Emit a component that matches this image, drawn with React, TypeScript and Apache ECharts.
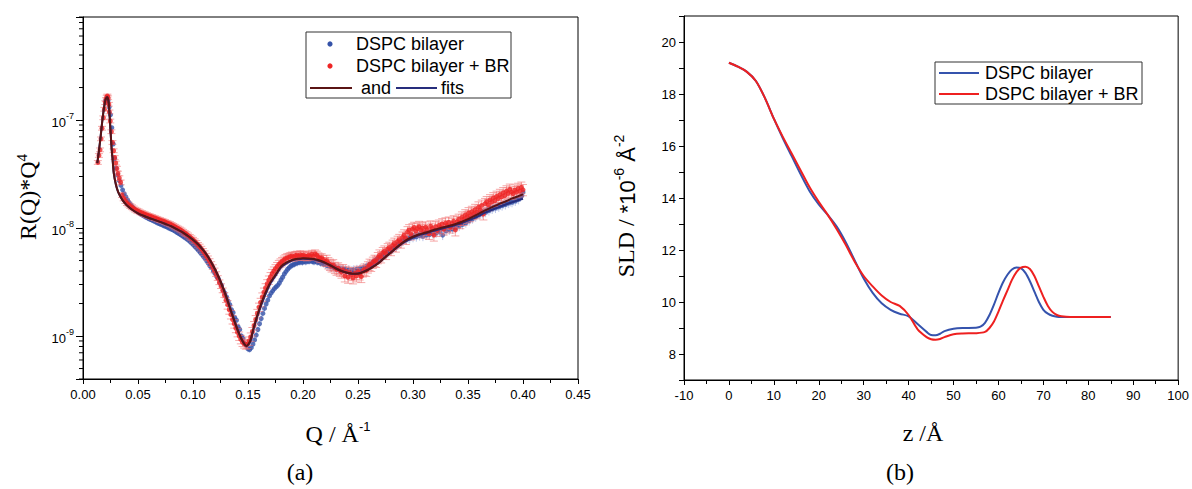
import React, { useEffect, useRef } from "react";
import * as echarts from "echarts";

const SANS = '"Liberation Sans", Arial, sans-serif';
const SERIF = '"Liberation Serif", "Times New Roman", serif';

// ---------- Panel (a): R(Q)*Q^4, values in units of 1e-9 ----------
const R_UNIT = 1e-9;

const BLUE_POINTS: [number, number][] = [
  [0.0205, 150], [0.0218, 160], [0.0228, 152], [0.0238, 132], [0.025, 112], [0.0262, 85], [0.0275, 60], [0.0288, 44],
  [0.03, 36], [0.0315, 31], [0.033, 27.5], [0.0345, 24.8], [0.036, 22.6], [0.0375, 20.8], [0.039, 19.4], [0.0405, 18.2],
  [0.042, 17.2], [0.0435, 16.4], [0.045, 15.7], [0.0465, 15.1], [0.048, 14.6], [0.0495, 14.2], [0.051, 13.8], [0.0525, 13.5],
  [0.054, 13.2], [0.0555, 12.9], [0.057, 12.65], [0.0585, 12.4], [0.06, 12.2], [0.0615, 12.0], [0.063, 11.8], [0.0645, 11.6],
  [0.066, 11.4], [0.0675, 11.2], [0.069, 11.0], [0.0705, 10.85], [0.072, 10.7], [0.0735, 10.5], [0.075, 10.35], [0.0765, 10.2],
  [0.078, 10.0], [0.0795, 9.85], [0.081, 9.7], [0.0825, 9.5], [0.084, 9.3], [0.0855, 9.1], [0.087, 8.9], [0.0885, 8.7],
  [0.09, 8.5], [0.0915, 8.3], [0.093, 8.1], [0.0945, 7.9], [0.096, 7.7], [0.0975, 7.45], [0.099, 7.2], [0.1005, 6.95],
  [0.102, 6.7], [0.1035, 6.45], [0.105, 6.2], [0.1065, 5.95], [0.108, 5.7], [0.1095, 5.45], [0.111, 5.2], [0.1125, 4.95],
  [0.114, 4.7], [0.1155, 4.45], [0.117, 4.3], [0.1185, 4.0], [0.12, 3.8], [0.1215, 3.55], [0.123, 3.4], [0.1245, 3.1],
  [0.126, 2.95], [0.1275, 2.65], [0.129, 2.5], [0.1305, 2.3], [0.132, 2.1], [0.1335, 1.95], [0.135, 1.75], [0.1365, 1.65],
  [0.138, 1.48], [0.1395, 1.4], [0.141, 1.22], [0.1425, 1.15], [0.144, 1.0], [0.1455, 0.95], [0.147, 0.85], [0.1485, 0.82],
  [0.15, 0.76], [0.1515, 0.75], [0.153, 0.78], [0.1545, 0.84], [0.156, 0.92], [0.1575, 1.02], [0.159, 1.15], [0.1605, 1.3],
  [0.162, 1.45], [0.1635, 1.62], [0.165, 1.8], [0.1665, 1.98], [0.168, 2.15], [0.1695, 2.35], [0.171, 2.5], [0.1725, 2.62],
  [0.174, 2.75], [0.1755, 2.85], [0.177, 2.95], [0.1785, 3.1], [0.18, 3.3], [0.1815, 3.5], [0.183, 3.75], [0.1845, 3.95],
  [0.186, 4.15], [0.1875, 4.3], [0.189, 4.45], [0.1905, 4.55], [0.192, 4.6], [0.1935, 4.7], [0.195, 4.75], [0.1965, 4.8],
  [0.198, 4.85], [0.1995, 4.8], [0.201, 4.9], [0.2025, 4.85], [0.204, 4.95], [0.2055, 4.9], [0.207, 5.0], [0.2085, 4.9],
  [0.21, 4.85], [0.2115, 4.95], [0.213, 4.8], [0.2145, 4.85], [0.216, 4.7], [0.2175, 4.75], [0.219, 4.6], [0.2205, 4.65],
  [0.222, 4.5], [0.2235, 4.55], [0.225, 4.4], [0.2265, 4.45], [0.228, 4.3], [0.2295, 4.35], [0.231, 4.2], [0.2325, 4.25],
  [0.234, 4.1], [0.2355, 4.2], [0.237, 4.05], [0.2385, 4.15], [0.24, 4.0], [0.2415, 4.1], [0.243, 3.95], [0.2445, 4.05],
  [0.246, 4.1], [0.2475, 3.95], [0.249, 4.15], [0.2505, 4.05], [0.252, 4.2], [0.2535, 4.1], [0.255, 4.3], [0.2565, 4.25],
  [0.258, 4.45], [0.2595, 4.4], [0.261, 4.65], [0.2625, 4.6], [0.264, 4.9], [0.2655, 4.85], [0.267, 5.15], [0.2685, 5.1],
  [0.27, 5.4], [0.2715, 5.35], [0.273, 5.7], [0.2745, 5.65], [0.276, 5.95], [0.2775, 6.0], [0.279, 6.2], [0.2805, 6.35],
  [0.282, 6.5], [0.2835, 6.7], [0.285, 6.8], [0.2865, 7.1], [0.288, 7.2], [0.2895, 7.5], [0.291, 7.6], [0.2925, 7.9],
  [0.294, 7.8], [0.2955, 8.1], [0.297, 8.0], [0.2985, 8.4], [0.3, 8.2], [0.3015, 8.6], [0.303, 8.3], [0.3045, 8.7],
  [0.306, 8.5], [0.3075, 8.8], [0.309, 8.4], [0.3105, 8.9], [0.312, 8.6], [0.3135, 9.1], [0.315, 8.7], [0.3165, 9.3],
  [0.318, 8.9], [0.3195, 9.5], [0.321, 9.0], [0.3225, 9.6], [0.324, 9.2], [0.3255, 9.8], [0.327, 8.6], [0.3285, 9.9],
  [0.33, 9.4], [0.3315, 10.1], [0.333, 9.6], [0.3345, 10.3], [0.336, 9.8], [0.3375, 10.5], [0.339, 10.1], [0.3405, 10.7],
  [0.342, 10.4], [0.3435, 11.0], [0.345, 10.8], [0.3465, 11.4], [0.348, 11.2], [0.3495, 11.9], [0.351, 11.7], [0.3525, 12.4],
  [0.354, 12.2], [0.3555, 12.9], [0.357, 12.7], [0.3585, 13.4], [0.36, 13.2], [0.3615, 13.9], [0.363, 13.6], [0.3645, 14.4],
  [0.366, 14.0], [0.3675, 14.8], [0.369, 14.5], [0.3705, 15.2], [0.372, 15.0], [0.3735, 15.6], [0.375, 15.3], [0.3765, 16.0],
  [0.378, 15.7], [0.3795, 16.4], [0.381, 16.1], [0.3825, 16.8], [0.384, 16.5], [0.3855, 17.2], [0.387, 17.0], [0.3885, 17.6],
  [0.39, 17.3], [0.3915, 18.0], [0.393, 17.8], [0.3945, 18.6], [0.396, 18.4], [0.3975, 19.4], [0.399, 20.0], [0.4, 21.5],
];

const RED_POINTS: [number, number][] = [
  [0.0135, 40.5], [0.0145, 47], [0.0155, 53], [0.0164, 67], [0.0173, 84], [0.0185, 105], [0.0194, 126], [0.0203, 145],
  [0.021, 155], [0.0216, 163], [0.0222, 167], [0.0228, 161], [0.0235, 140], [0.024, 119], [0.0248, 98], [0.0258, 78],
  [0.0268, 62], [0.0278, 52], [0.0288, 45], [0.0298, 40], [0.0308, 35.5], [0.0318, 32], [0.033, 29], [0.0342, 26.5],
  [0.0355, 20.2], [0.037, 18.8], [0.0385, 17.8], [0.04, 17.0], [0.0415, 16.5], [0.043, 16.0], [0.0445, 15.6], [0.046, 15.2],
  [0.0475, 14.8], [0.049, 14.5], [0.0505, 14.3], [0.052, 14.0], [0.0535, 13.8], [0.055, 13.6], [0.0565, 13.4], [0.058, 13.2],
  [0.0595, 13.0], [0.061, 12.85], [0.0625, 12.7], [0.064, 12.5], [0.0655, 12.35], [0.067, 12.2], [0.0685, 12.0], [0.07, 11.85],
  [0.0715, 11.7], [0.073, 11.55], [0.0745, 11.4], [0.076, 11.2], [0.0775, 11.05], [0.079, 10.9], [0.0805, 10.7], [0.082, 10.5],
  [0.0835, 10.3], [0.085, 10.1], [0.0865, 9.9], [0.088, 9.7], [0.0895, 9.5], [0.091, 9.25], [0.0925, 9.0], [0.094, 8.8],
  [0.0955, 8.55], [0.097, 8.3], [0.0985, 8.05], [0.1, 7.8], [0.1015, 7.55], [0.103, 7.3], [0.1045, 7.0], [0.106, 6.75],
  [0.1075, 6.45], [0.109, 6.15], [0.1105, 5.85], [0.112, 5.55], [0.1135, 5.25], [0.115, 4.95], [0.1165, 4.65], [0.118, 4.35],
  [0.1195, 4.05], [0.121, 3.75], [0.1225, 3.45], [0.124, 3.15], [0.1255, 2.9], [0.127, 2.65], [0.1285, 2.4], [0.13, 2.15],
  [0.1315, 1.95], [0.133, 1.75], [0.1345, 1.58], [0.136, 1.42], [0.1375, 1.3], [0.139, 1.18], [0.1405, 1.08], [0.142, 1.0],
  [0.1435, 0.93], [0.145, 0.88], [0.1465, 0.85], [0.148, 0.83], [0.1495, 0.84], [0.151, 0.9], [0.1525, 0.98], [0.154, 1.1],
  [0.1555, 1.25], [0.157, 1.42], [0.1585, 1.62], [0.16, 1.85], [0.1615, 2.05], [0.163, 2.3], [0.1645, 2.55], [0.166, 2.8],
  [0.1675, 3.05], [0.169, 3.3], [0.1705, 3.55], [0.172, 3.8], [0.1735, 4.0], [0.175, 4.2], [0.1765, 4.4], [0.178, 4.6],
  [0.1795, 4.75], [0.181, 4.9], [0.1825, 5.05], [0.184, 5.2], [0.1855, 5.3], [0.187, 5.35], [0.1885, 5.45], [0.19, 5.5],
  [0.1915, 5.4], [0.193, 5.55], [0.1945, 5.6], [0.196, 5.5], [0.1975, 5.65], [0.199, 5.55], [0.2005, 5.6], [0.202, 5.5],
  [0.2035, 5.45], [0.205, 5.6], [0.2065, 5.5], [0.208, 5.7], [0.2095, 5.5], [0.211, 5.75], [0.2125, 5.6], [0.214, 5.4],
  [0.2155, 5.25], [0.217, 5.3], [0.2185, 5.1], [0.22, 4.9], [0.2215, 5.0], [0.223, 4.75], [0.2245, 4.6], [0.226, 4.45],
  [0.2275, 4.55], [0.229, 4.3], [0.2305, 4.15], [0.232, 4.25], [0.2335, 4.05], [0.235, 3.9], [0.2365, 4.1], [0.238, 3.6],
  [0.2395, 3.95], [0.241, 3.5], [0.2425, 3.85], [0.244, 3.7], [0.2455, 3.45], [0.247, 3.8], [0.2485, 3.6], [0.25, 3.95],
  [0.2515, 3.75], [0.253, 3.55], [0.2545, 4.0], [0.256, 4.15], [0.2575, 4.05], [0.259, 4.35], [0.2605, 4.6], [0.262, 4.5],
  [0.2635, 4.8], [0.265, 5.0], [0.2665, 4.9], [0.268, 5.3], [0.2695, 5.6], [0.271, 5.4], [0.2725, 5.9], [0.274, 6.1],
  [0.2755, 5.8], [0.277, 6.4], [0.2785, 6.6], [0.28, 6.3], [0.2815, 6.9], [0.283, 7.2], [0.2845, 6.8], [0.286, 7.5],
  [0.2875, 7.8], [0.289, 7.4], [0.2905, 8.2], [0.292, 8.6], [0.2935, 8.0], [0.295, 9.2], [0.2965, 9.6], [0.298, 8.8],
  [0.2995, 9.8], [0.301, 10.1], [0.3025, 9.4], [0.304, 9.9], [0.3055, 10.3], [0.307, 9.6], [0.3085, 10.0], [0.31, 9.2],
  [0.3115, 10.2], [0.313, 9.7], [0.3145, 8.9], [0.316, 10.4], [0.3175, 9.9], [0.319, 8.6], [0.3205, 10.3], [0.322, 9.5],
  [0.3235, 10.6], [0.325, 10.1], [0.3265, 10.9], [0.328, 9.8], [0.3295, 11.1], [0.331, 10.5], [0.3325, 11.3], [0.334, 10.2],
  [0.3355, 11.0], [0.337, 11.6], [0.3385, 9.6], [0.34, 11.4], [0.3415, 12.0], [0.343, 11.2], [0.3445, 12.6], [0.346, 12.0],
  [0.3475, 13.2], [0.349, 12.6], [0.3505, 13.8], [0.352, 13.0], [0.3535, 14.2], [0.355, 13.6], [0.3565, 14.8], [0.358, 14.0],
  [0.3595, 15.6], [0.361, 14.7], [0.3625, 16.2], [0.364, 13.5], [0.3655, 16.8], [0.367, 17.5], [0.3685, 16.4], [0.37, 18.2],
  [0.3715, 17.4], [0.373, 19.0], [0.3745, 18.0], [0.376, 19.6], [0.3775, 18.8], [0.379, 20.4], [0.3805, 19.4], [0.382, 21.2],
  [0.3835, 20.0], [0.385, 22.0], [0.3865, 21.0], [0.388, 22.8], [0.3895, 21.5], [0.391, 20.8], [0.3925, 22.4], [0.394, 21.6],
  [0.3955, 23.2], [0.397, 22.0], [0.3985, 23.8], [0.4, 22.6],
];

// fits (units of 1e-9)
const RED_FIT: [number, number][] = [
  [0.013, 40], [0.0145, 52], [0.016, 70], [0.0175, 97], [0.019, 128], [0.0205, 155], [0.022, 163], [0.0232, 150],
  [0.024, 118], [0.025, 80], [0.026, 55], [0.027, 42], [0.028, 32], [0.03, 25], [0.032, 21.5], [0.035, 18.8],
  [0.038, 17], [0.041, 15.8], [0.045, 14.7], [0.05, 13.7], [0.055, 13.0], [0.06, 12.4], [0.065, 11.9], [0.07, 11.4],
  [0.075, 10.9], [0.08, 10.4], [0.085, 9.8], [0.09, 9.2], [0.095, 8.5], [0.1, 7.8], [0.105, 7.0], [0.11, 6.1],
  [0.115, 5.15], [0.12, 4.15], [0.125, 3.2], [0.13, 2.35], [0.135, 1.65], [0.14, 1.18], [0.145, 0.9], [0.1487, 0.81],
  [0.152, 0.9], [0.155, 1.18], [0.16, 1.74], [0.165, 2.4], [0.17, 3.1], [0.175, 3.7], [0.18, 4.4], [0.185, 4.8],
  [0.19, 5.06], [0.195, 5.2], [0.2, 5.25], [0.205, 5.23], [0.21, 5.17], [0.215, 5.0], [0.22, 4.78], [0.225, 4.5],
  [0.23, 4.22], [0.235, 4.0], [0.24, 3.85], [0.245, 3.78], [0.25, 3.78], [0.255, 3.92], [0.26, 4.14], [0.265, 4.45],
  [0.27, 4.85], [0.275, 5.4], [0.28, 5.95], [0.285, 6.6], [0.29, 7.25], [0.295, 7.85], [0.3, 8.3], [0.305, 8.7],
  [0.31, 9.0], [0.315, 9.3], [0.32, 9.7], [0.325, 10.0], [0.33, 10.3], [0.335, 10.6], [0.34, 11.0], [0.345, 11.5],
  [0.35, 12.1], [0.355, 12.8], [0.36, 13.6], [0.365, 14.5], [0.37, 15.3], [0.375, 16.1], [0.38, 17.0], [0.385, 17.8],
  [0.39, 18.8], [0.395, 19.6], [0.4, 20.5],
];

const BLUE_FIT: [number, number][] = [
  [0.013, 40], [0.0145, 52], [0.016, 70], [0.0175, 97], [0.019, 128], [0.0205, 155], [0.022, 163], [0.0232, 150],
  [0.024, 118], [0.025, 80], [0.026, 55], [0.027, 42], [0.028, 32], [0.03, 25], [0.032, 21.5], [0.035, 18.8],
  [0.038, 17], [0.041, 15.8], [0.045, 14.7], [0.05, 13.7], [0.055, 13.0], [0.06, 12.4], [0.065, 11.9], [0.07, 11.4],
  [0.075, 10.9], [0.08, 10.4], [0.085, 9.8], [0.09, 9.2], [0.095, 8.5], [0.1, 7.8], [0.105, 7.0], [0.11, 6.1],
  [0.115, 5.15], [0.12, 4.15], [0.125, 3.2], [0.13, 2.35], [0.135, 1.65], [0.14, 1.18], [0.145, 0.9], [0.1487, 0.81],
  [0.152, 0.88], [0.155, 1.15], [0.16, 1.68], [0.165, 2.3], [0.17, 3.0], [0.175, 3.6], [0.18, 4.3], [0.185, 4.7],
  [0.19, 5.0], [0.195, 5.15], [0.2, 5.2], [0.205, 5.18], [0.21, 5.1], [0.215, 4.95], [0.22, 4.75], [0.225, 4.5],
  [0.23, 4.22], [0.235, 4.0], [0.24, 3.85], [0.245, 3.78], [0.25, 3.8], [0.255, 3.95], [0.26, 4.17], [0.265, 4.48],
  [0.27, 4.88], [0.275, 5.4], [0.28, 5.95], [0.285, 6.55], [0.29, 7.15], [0.295, 7.7], [0.3, 8.15], [0.305, 8.55],
  [0.31, 8.85], [0.315, 9.15], [0.32, 9.5], [0.325, 9.8], [0.33, 10.1], [0.335, 10.4], [0.34, 10.75], [0.345, 11.2],
  [0.35, 11.7], [0.355, 12.3], [0.36, 13.0], [0.365, 13.8], [0.37, 14.5], [0.375, 15.2], [0.38, 15.9], [0.385, 16.6],
  [0.39, 17.3], [0.395, 18.0], [0.4, 18.7],
];

// relative error bands: [upper Q bound, relative error]
const RED_ERR_BANDS: [number, number][] = [[0.03, 0.04], [0.13, 0.05], [0.22, 0.09], [0.41, 0.12]];
const BLUE_ERR_BANDS: [number, number][] = [[0.03, 0.03], [0.13, 0.04], [0.22, 0.07], [0.41, 0.1]];

const LOG_DECADES = [-10, -9, -8, -7];
const LOG_MINOR_MULTS = [2, 3, 4, 5, 6, 7, 8, 9];
const R_MIN = 4e-10;
const R_MAX = 9e-7;

// ---------- Panel (b): SLD profiles ----------
const BLUE_SLD: [number, number][] = [
  [0, 19.2], [2, 19.05], [4, 18.85], [6, 18.5], [8, 17.85], [10, 17.05], [12, 16.3], [14, 15.6], [16, 14.9], [18, 14.25],
  [20, 13.75], [22, 13.35], [24, 12.9], [26, 12.3], [28, 11.6], [30, 10.9], [32, 10.35], [34, 9.95], [36, 9.7], [38, 9.55],
  [40, 9.45], [42, 9.15], [44, 8.85], [45, 8.73], [46, 8.72], [47, 8.78], [48, 8.88], [50, 8.97], [52, 9.0], [55, 9.01],
  [56, 9.05], [57, 9.2], [58, 9.5], [59, 9.9], [60, 10.35], [61, 10.75], [62, 11.05], [63, 11.25], [64, 11.33], [65, 11.3],
  [66, 11.12], [67, 10.8], [68, 10.4], [69, 10.0], [70, 9.7], [71, 9.55], [72, 9.47], [73, 9.43], [74, 9.42], [76, 9.42],
  [80, 9.42], [85, 9.42],
];

const RED_SLD: [number, number][] = [
  [0, 19.2], [2, 19.05], [4, 18.85], [6, 18.5], [8, 17.85], [10, 17.05], [12, 16.35], [14, 15.7], [16, 15.05], [18, 14.4],
  [20, 13.85], [22, 13.35], [24, 12.8], [26, 12.2], [28, 11.55], [30, 11.0], [32, 10.6], [34, 10.25], [36, 10.0], [38, 9.85],
  [40, 9.5], [42, 8.95], [44, 8.65], [45, 8.57], [46, 8.55], [47, 8.58], [48, 8.65], [50, 8.76], [52, 8.79], [55, 8.8],
  [57, 8.85], [58, 9.0], [59, 9.25], [60, 9.63], [61, 10.05], [62, 10.45], [63, 10.85], [64, 11.15], [65, 11.32], [66, 11.36],
  [67, 11.27], [68, 11.0], [69, 10.6], [70, 10.2], [71, 9.85], [72, 9.62], [73, 9.5], [74, 9.45], [76, 9.42], [80, 9.42],
  [85, 9.42],
];

const C_BLUE_PT = "#3452a8";
const C_RED_PT = "#ee2424";
const C_MAROON = "#5a1414";
const C_NAVY = "#262d7c";
const C_BLUE_LINE = "#3553ad";
const C_RED_LINE = "#ee2020";

function relErr(q: number, bands: [number, number][]) {
  for (const [qMax, e] of bands) if (q <= qMax) return e;
  return bands[bands.length - 1][1];
}

function errorBars(points: [number, number][], bands: [number, number][], color: string, cap: number, z: number) {
  return {
    type: "custom",
    xAxisIndex: 0,
    yAxisIndex: 0,
    silent: true,
    clip: true,
    z,
    encode: { x: 0, y: 1 },
    data: points.map(([q, r]) => [q, r * R_UNIT, relErr(q, bands)]),
    renderItem: (_params: any, api: any) => {
      const q = api.value(0);
      const r = api.value(1);
      const e = api.value(2);
      const hi = api.coord([q, r * (1 + e)]);
      const lo = api.coord([q, r * (1 - e)]);
      const children: any[] = [
        { type: "line", shape: { x1: hi[0], y1: hi[1], x2: lo[0], y2: lo[1] }, style: { stroke: color, lineWidth: 1 } },
      ];
      if (cap > 0) {
        children.push({ type: "line", shape: { x1: hi[0] - cap, y1: hi[1], x2: hi[0] + cap, y2: hi[1] }, style: { stroke: color, lineWidth: 1 } });
        children.push({ type: "line", shape: { x1: lo[0] - cap, y1: lo[1], x2: lo[0] + cap, y2: lo[1] }, style: { stroke: color, lineWidth: 1 } });
      }
      return { type: "group", children };
    },
  };
}

function buildOption() {
  const minorLogTicks: number[] = [];
  LOG_DECADES.forEach((d) =>
    LOG_MINOR_MULTS.forEach((k) => {
      const v = k * Math.pow(10, d);
      if (v >= R_MIN * 0.9999 && v <= R_MAX * 1.0001) minorLogTicks.push(v);
    })
  );

  const tickLabel = { fontFamily: SANS, fontSize: 13, color: "#000" };
  const axisLine = { show: true, onZero: false, lineStyle: { color: "#000", width: 1 } };
  const axisTick = { show: true, length: 5, lineStyle: { color: "#000", width: 1 } };
  const minorTick = { show: true, splitNumber: 2, length: 4, lineStyle: { color: "#000", width: 1 } };

  const toPts = (arr: [number, number][]) => arr.map(([q, r]) => [q, r * R_UNIT]);

  const txt = (x: number, y: number, text: string) => ({
    type: "text", x, y,
    style: { text, fontFamily: SANS, fontSize: 18, fill: "#000", verticalAlign: "middle", align: "left" },
  });

  const legendA = {
    type: "group",
    children: [
      { type: "rect", shape: { x: 306, y: 32, width: 205, height: 66 }, style: { fill: "#fff", stroke: "#333", lineWidth: 1 } },
      { type: "circle", shape: { cx: 330, cy: 44, r: 2.6 }, style: { fill: C_BLUE_PT } },
      txt(356, 44, "DSPC bilayer"),
      { type: "circle", shape: { cx: 330, cy: 66, r: 2.6 }, style: { fill: C_RED_PT } },
      txt(356, 66, "DSPC bilayer + BR"),
      { type: "line", shape: { x1: 310, y1: 88, x2: 352, y2: 88 }, style: { stroke: C_MAROON, lineWidth: 2 } },
      txt(361, 88, "and"),
      { type: "line", shape: { x1: 396, y1: 88, x2: 437, y2: 88 }, style: { stroke: C_NAVY, lineWidth: 2 } },
      txt(441, 88, "fits"),
    ],
  };

  const legendB = {
    type: "group",
    children: [
      { type: "rect", shape: { x: 935, y: 62, width: 207, height: 42 }, style: { fill: "#fff", stroke: "#333", lineWidth: 1 } },
      { type: "line", shape: { x1: 939, y1: 73, x2: 979, y2: 73 }, style: { stroke: C_BLUE_LINE, lineWidth: 2 } },
      txt(985, 73, "DSPC bilayer"),
      { type: "line", shape: { x1: 939, y1: 94, x2: 979, y2: 94 }, style: { stroke: C_RED_LINE, lineWidth: 2 } },
      txt(985, 94, "DSPC bilayer + BR"),
    ],
  };

  const titles = [
    {
      type: "text", x: 27, y: 197, rotation: Math.PI / 2,
      style: {
        text: "{a|R(Q)*Q}{s|4}", align: "center", verticalAlign: "middle",
        rich: {
          a: { fontFamily: SERIF, fontSize: 24, lineHeight: 26, fill: "#000", verticalAlign: "bottom" },
          s: { fontFamily: SERIF, fontSize: 15, lineHeight: 15, fill: "#000", verticalAlign: "top" },
        },
      },
    },
    {
      type: "text", x: 338, y: 433,
      style: {
        text: "{a|Q / Å}{s|-1}", align: "center", verticalAlign: "middle",
        rich: {
          a: { fontFamily: SERIF, fontSize: 24, lineHeight: 26, fill: "#000", verticalAlign: "bottom" },
          s: { fontFamily: SANS, fontSize: 13, lineHeight: 14, fill: "#000", verticalAlign: "top" },
        },
      },
    },
    { type: "text", x: 300, y: 472, style: { text: "(a)", fontFamily: SERIF, fontSize: 24, fill: "#000", align: "center", verticalAlign: "middle" } },
    {
      type: "text", x: 625, y: 206, rotation: Math.PI / 2,
      style: {
        text: "{a|SLD / }{b|*10}{s|-6}{b| Å}{s|-2}", align: "center", verticalAlign: "middle",
        rich: {
          a: { fontFamily: SERIF, fontSize: 24, lineHeight: 26, fill: "#000", verticalAlign: "bottom" },
          b: { fontFamily: SANS, fontSize: 22, lineHeight: 26, fill: "#000", verticalAlign: "bottom" },
          s: { fontFamily: SANS, fontSize: 14, lineHeight: 14, fill: "#000", verticalAlign: "top" },
        },
      },
    },
    { type: "text", x: 923, y: 433, style: { text: "z /Å", fontFamily: SERIF, fontSize: 24, fill: "#000", align: "center", verticalAlign: "middle" } },
    { type: "text", x: 900, y: 472, style: { text: "(b)", fontFamily: SERIF, fontSize: 24, fill: "#000", align: "center", verticalAlign: "middle" } },
  ];

  return {
    animation: false,
    backgroundColor: "#fff",
    grid: [
      { left: 83, top: 17, width: 495, height: 362, show: true, borderColor: "#000", borderWidth: 1, backgroundColor: "transparent" },
      { left: 684, top: 16, width: 495, height: 364, show: true, borderColor: "#000", borderWidth: 1, backgroundColor: "transparent" },
    ],
    xAxis: [
      {
        type: "value", gridIndex: 0, min: 0, max: 0.45, interval: 0.05,
        axisLine, axisTick, minorTick, splitLine: { show: false }, minorSplitLine: { show: false },
        axisLabel: { ...tickLabel, margin: 9, formatter: (v: number) => v.toFixed(2) },
      },
      {
        type: "value", gridIndex: 1, min: -10, max: 100, interval: 10,
        axisLine, axisTick, minorTick, splitLine: { show: false }, minorSplitLine: { show: false },
        axisLabel: { ...tickLabel, margin: 9 },
      },
    ],
    yAxis: [
      {
        type: "log", logBase: 10, gridIndex: 0, min: R_MIN, max: R_MAX, position: "left",
        axisLine, axisTick: { ...axisTick, length: 7 }, splitLine: { show: false },
        axisLabel: {
          margin: 9,
          formatter: (v: number) => {
            const e = Math.log10(v);
            const r = Math.round(e);
            if (Math.abs(e - r) > 1e-6) return "";
            return `{b|10}{s|${r}}`;
          },
          rich: {
            b: { fontFamily: SANS, fontSize: 13, lineHeight: 17, color: "#000", verticalAlign: "bottom" },
            s: { fontFamily: SANS, fontSize: 9, lineHeight: 10, color: "#000", verticalAlign: "top" },
          },
        },
      },
      {
        type: "value", gridIndex: 1, min: 7, max: 21, interval: 1, position: "left",
        axisLine, axisTick, splitLine: { show: false },
        axisLabel: { ...tickLabel, margin: 8, formatter: (v: number) => (Math.round(v) % 2 === 0 ? String(v) : "") },
      },
    ],
    series: [
      // minor log ticks on the left axis of panel (a), placed through the log scale
      {
        type: "custom", xAxisIndex: 0, yAxisIndex: 0, silent: true, clip: false, z: 10,
        encode: { x: 0, y: 1 },
        data: minorLogTicks.map((v) => [0, v]),
        renderItem: (_p: any, api: any) => {
          const pt = api.coord([0, api.value(1)]);
          return { type: "line", shape: { x1: pt[0] - 4, y1: pt[1], x2: pt[0], y2: pt[1] }, style: { stroke: "#000", lineWidth: 1 } };
        },
      },
      errorBars(BLUE_POINTS, BLUE_ERR_BANDS, "rgba(130,150,215,0.55)", 0, 1),
      {
        type: "scatter", name: "DSPC bilayer", xAxisIndex: 0, yAxisIndex: 0, data: toPts(BLUE_POINTS),
        symbol: "circle", symbolSize: 5, itemStyle: { color: C_BLUE_PT }, z: 2, silent: true,
      },
      errorBars(RED_POINTS, RED_ERR_BANDS, "rgba(240,110,110,0.6)", 4, 3),
      {
        type: "scatter", name: "DSPC bilayer + BR", xAxisIndex: 0, yAxisIndex: 0, data: toPts(RED_POINTS),
        symbol: "circle", symbolSize: 5, itemStyle: { color: C_RED_PT }, z: 4, silent: true,
      },
      {
        type: "line", name: "blue fit", xAxisIndex: 0, yAxisIndex: 0, data: toPts(BLUE_FIT), smooth: 0.25,
        showSymbol: false, lineStyle: { color: C_NAVY, width: 2 }, z: 5, silent: true,
      },
      {
        type: "line", name: "red fit", xAxisIndex: 0, yAxisIndex: 0, data: toPts(RED_FIT), smooth: 0.25,
        showSymbol: false, lineStyle: { color: C_MAROON, width: 2 }, z: 6, silent: true,
      },
      {
        type: "line", name: "DSPC bilayer (SLD)", xAxisIndex: 1, yAxisIndex: 1, data: BLUE_SLD, smooth: 0.3,
        showSymbol: false, lineStyle: { color: C_BLUE_LINE, width: 2 }, z: 5, silent: true,
      },
      {
        type: "line", name: "DSPC bilayer + BR (SLD)", xAxisIndex: 1, yAxisIndex: 1, data: RED_SLD, smooth: 0.3,
        showSymbol: false, lineStyle: { color: C_RED_LINE, width: 2 }, z: 6, silent: true,
      },
    ],
    graphic: [legendA, legendB, ...titles],
  };
}

export default function App() {
  const ref = useRef<HTMLDivElement>(null);
  useEffect(() => {
    document.body.style.margin = "0";
    const chart = echarts.init(ref.current!, null, { renderer: "svg" });
    chart.setOption(buildOption() as any);
    return () => chart.dispose();
  }, []);
  return (
    <div
      ref={ref}
      style={{ position: "absolute", left: 0, top: 0, width: 1192, height: 489, background: "#fff" }}
    />
  );
}
